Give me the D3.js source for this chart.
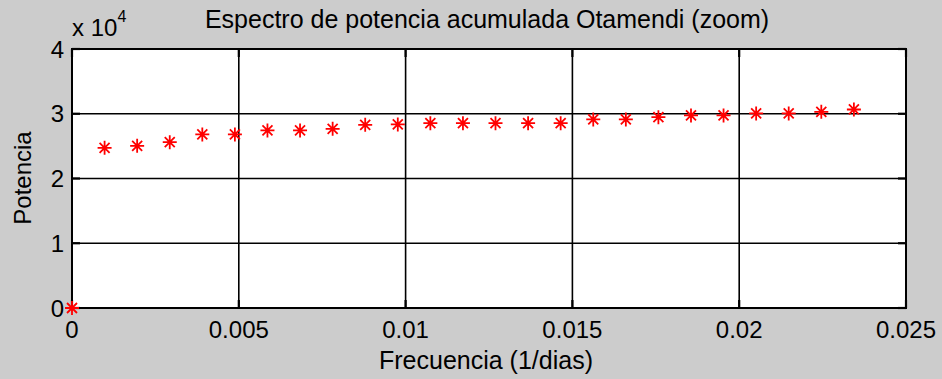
<!DOCTYPE html>
<html>
<head>
<meta charset="utf-8">
<script src="https://cdn.jsdelivr.net/npm/d3@7"></script>
<style>
  html, body { margin: 0; padding: 0; background: #cccccc; }
  svg { display: block; }
  text { font-family: "Liberation Sans", Arial, sans-serif; fill: #000; }
</style>
</head>
<body>
<svg id="chart" width="942" height="379"></svg>
<script>
// Frequency bins (1/dias) and accumulated power
const frecuencia = [
  0, 0.000977, 0.001953, 0.002930, 0.003906, 0.004883, 0.005859, 0.006836,
  0.007813, 0.008789, 0.009766, 0.010742, 0.011719, 0.012695, 0.013672,
  0.014648, 0.015625, 0.016602, 0.017578, 0.018555, 0.019531, 0.020508,
  0.021484, 0.022461, 0.023438
];
const potencia = [
  0, 24730, 25040, 25610, 26800, 26800, 27420, 27420,
  27670, 28290, 28350, 28550, 28550, 28550, 28550,
  28550, 29120, 29120, 29470, 29740, 29740, 30050,
  30050, 30300, 30660
];
const xTicks = [0, 0.005, 0.01, 0.015, 0.02, 0.025];
const xTickLabels = ["0", "0.005", "0.01", "0.015", "0.02", "0.025"];
const yTicks = [0, 10000, 20000, 30000, 40000];
const yTickLabels = ["0", "1", "2", "3", "4"];

const svg = d3.select("#chart");
const box = { left: 72, right: 906, top: 49, bottom: 308 };

const x = d3.scaleLinear().domain([0, 0.025]).range([box.left, box.right]);
const y = d3.scaleLinear().domain([0, 40000]).range([box.bottom, box.top]);

// plot background
svg.append("rect")
  .attr("x", box.left).attr("y", box.top)
  .attr("width", box.right - box.left).attr("height", box.bottom - box.top)
  .attr("fill", "#fff");

// grid
const grid = svg.append("g").attr("stroke", "#000").attr("stroke-width", 1.6);
grid.selectAll("line.gx").data(xTicks).join("line")
  .attr("x1", d => x(d)).attr("x2", d => x(d))
  .attr("y1", box.top).attr("y2", box.bottom);
grid.selectAll("line.gy").data(yTicks).join("line")
  .attr("y1", d => y(d)).attr("y2", d => y(d))
  .attr("x1", box.left).attr("x2", box.right);

// inward ticks on all four sides
const tl = 8;
const ticks = svg.append("g").attr("stroke", "#000").attr("stroke-width", 2.2);
xTicks.forEach(d => {
  ticks.append("line").attr("x1", x(d)).attr("x2", x(d)).attr("y1", box.bottom).attr("y2", box.bottom - tl);
  ticks.append("line").attr("x1", x(d)).attr("x2", x(d)).attr("y1", box.top).attr("y2", box.top + tl);
});
yTicks.forEach(d => {
  ticks.append("line").attr("y1", y(d)).attr("y2", y(d)).attr("x1", box.left).attr("x2", box.left + tl);
  ticks.append("line").attr("y1", y(d)).attr("y2", y(d)).attr("x1", box.right).attr("x2", box.right - tl);
});

// frame
svg.append("rect")
  .attr("x", box.left).attr("y", box.top)
  .attr("width", box.right - box.left).attr("height", box.bottom - box.top)
  .attr("fill", "none").attr("stroke", "#000").attr("stroke-width", 2);

// tick labels
svg.append("g").selectAll("text").data(xTicks).join("text")
  .attr("x", d => x(d)).attr("y", 338)
  .attr("text-anchor", "middle")
  .style("font-size", "24px")
  .text((d, i) => xTickLabels[i]);
svg.append("g").selectAll("text").data(yTicks).join("text")
  .attr("x", 64).attr("y", d => y(d) + 8.5)
  .attr("text-anchor", "end")
  .style("font-size", "24px")
  .text((d, i) => yTickLabels[i]);

// exponent marker
const expo = svg.append("text").attr("x", 72).attr("y", 36).style("font-size", "24px");
expo.append("tspan").text("x 10");
expo.append("tspan").attr("dy", -14).style("font-size", "16px").text("4");

// title and axis labels
svg.append("text").attr("x", 487).attr("y", 28).attr("text-anchor", "middle")
  .style("font-size", "25px").text("Espectro de potencia acumulada Otamendi (zoom)");
svg.append("text").attr("x", 486).attr("y", 369).attr("text-anchor", "middle")
  .style("font-size", "25px").text("Frecuencia (1/dias)");
svg.append("text").attr("transform", "translate(31,178) rotate(-90)").attr("text-anchor", "middle")
  .style("font-size", "24px").text("Potencia");

// asterisk markers
const r = 7, rd = 5;
const star = `M${-r},0H${r}M0,${-r}V${r}M${-rd},${-rd}L${rd},${rd}M${-rd},${rd}L${rd},${-rd}`;
svg.append("g").selectAll("path").data(frecuencia).join("path")
  .attr("transform", (d, i) => `translate(${x(d)},${y(potencia[i])})`)
  .attr("d", star)
  .attr("fill", "none").attr("stroke", "#ff0000").attr("stroke-width", 1.8);
</script>
</body>
</html>
